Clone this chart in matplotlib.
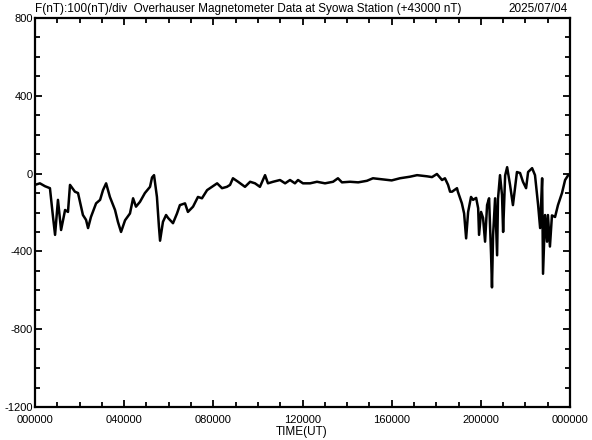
import numpy as np
import matplotlib
matplotlib.use("Agg")
import matplotlib.pyplot as plt
from matplotlib.ticker import MultipleLocator

# hours (UT) and total field minus 43000 nT
hours = [0.00, 0.22, 0.45, 0.67, 0.81, 0.90, 1.03, 1.17, 1.35, 1.48, 1.57,
         1.79, 1.93, 2.15, 2.29, 2.38, 2.51, 2.74, 2.92, 3.05, 3.19, 3.36,
         3.59, 3.72, 3.86, 4.04, 4.26, 4.40, 4.53, 4.71, 4.93, 5.16, 5.25,
         5.34, 5.47, 5.56, 5.61, 5.74, 5.88, 5.97, 6.19, 6.37, 6.50, 6.73,
         6.86, 7.09, 7.31, 7.49, 7.72, 7.94, 8.17, 8.39, 8.61, 8.75, 8.88,
         9.11, 9.42, 9.65, 9.87, 10.09, 10.32, 10.45, 10.68, 10.99, 11.22,
         11.44, 11.66, 11.80, 12.02, 12.34, 12.65, 13.01, 13.37, 13.59, 13.77,
         14.13, 14.50, 14.89, 15.16, 15.61, 16.00, 16.37, 16.82, 17.14, 17.59,
         17.81, 18.03, 18.26, 18.39, 18.53, 18.62, 18.71, 18.93, 18.97, 19.15,
         19.25, 19.34, 19.43, 19.56, 19.65, 19.79, 19.88, 19.92, 20.01, 20.10,
         20.19, 20.28, 20.37, 20.46, 20.50, 20.55, 20.64, 20.73, 20.77, 20.86,
         20.95, 21.00, 21.09, 21.18, 21.31, 21.44, 21.62, 21.76, 21.89, 22.03,
         22.12, 22.30, 22.43, 22.57, 22.66, 22.75, 22.79, 22.88, 22.97, 23.01,
         23.10, 23.19, 23.33, 23.46, 23.64, 23.78, 23.92]
field = [-58, -50, -65, -75, -225, -315, -135, -290, -187, -197, -58,
         -93, -100, -213, -238, -280, -223, -153, -135, -85, -50, -120,
         -187, -248, -300, -240, -205, -127, -170, -145, -100, -68, -20,
         -8, -120, -273, -345, -248, -213, -228, -255, -205, -162, -153,
         -197, -170, -120, -127, -85, -68, -50, -75, -68, -58, -24,
         -42, -68, -42, -50, -68, -8, -50, -42, -33, -50,
         -33, -50, -33, -50, -50, -42, -50, -42, -24, -45,
         -42, -45, -37, -24, -30, -35, -24, -16, -8, -14,
         -18, -2, -33, -24, -58, -93, -93, -75, -93, -153,
         -205, -333, -197, -120, -135, -125, -178, -315, -197, -228,
         -350, -162, -127, -420, -585, -315, -127, -420, -130, -8,
         -110, -300, -10, 33, -58, -162, 8, 3, -42, -75,
         8, 28, -8, -162, -280, -24, -515, -213, -350, -213,
         -375, -215, -223, -162, -100, -33, -8]

xtick_hours = [0, 4, 8, 12, 16, 20, 24]
xtick_labels = ["000000", "040000", "080000", "120000", "160000", "200000", "000000"]
ytick_vals = [-1200, -800, -400, 0, 400, 800]

plt.rcParams['font.family'] = ['Liberation Sans', 'DejaVu Sans']

fig = plt.figure(figsize=(5.92, 4.40), dpi=100)
ax = fig.add_axes([35 / 592, 1 - 407 / 440, 535 / 592, 389 / 440])

ax.plot(hours, field, color="black", linewidth=1.8)

ax.set_xlim(0, 24)
ax.set_ylim(-1200, 800)
ax.set_xticks(xtick_hours)
ax.set_xticklabels(xtick_labels)
ax.xaxis.set_minor_locator(MultipleLocator(1))
ax.set_yticks(ytick_vals)
ax.set_yticklabels([str(v) for v in ytick_vals])
ax.yaxis.set_minor_locator(MultipleLocator(100))

ax.tick_params(which="both", direction="in", top=True, right=True,
               width=1.3, labelsize=8, color="black")
ax.tick_params(which="major", length=5)
ax.tick_params(which="minor", length=3.5)
ax.tick_params(axis="x", pad=5.5)
ax.tick_params(axis="y", pad=1.5)
for sp in ax.spines.values():
    sp.set_linewidth(1.6)

fig.text(35 / 592, 1 - 9 / 440,
         "F(nT):100(nT)/div  Overhauser Magnetometer Data at Syowa Station (+43000 nT)",
         fontsize=8.5, ha="left", va="center")
fig.text(568 / 592, 1 - 9 / 440, "2025/07/04", fontsize=8.5, ha="right", va="center")
fig.text(302 / 592, 1 - 432 / 440, "TIME(UT)", fontsize=8.5, ha="center", va="center")

fig.savefig("out.png", dpi=100)
